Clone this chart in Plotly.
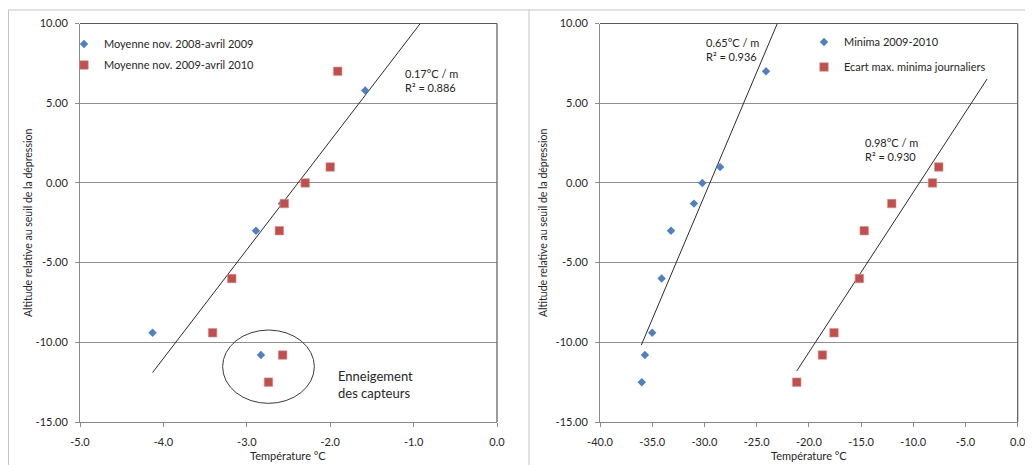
import plotly.graph_objects as go

# ---------------- data ----------------
# Left panel: mean temperatures
left_blue_name = "Moyenne nov. 2008-avril 2009"
left_blue_temp = [-1.58, -2.58, -2.89, -4.13, -2.83]
left_blue_alt = [5.8, -1.3, -3.0, -9.4, -10.8]

left_red_name = "Moyenne nov. 2009-avril 2010"
left_red_temp = [-1.91, -2.00, -2.30, -2.55, -2.61, -3.18, -3.41, -2.57, -2.74]
left_red_alt = [7.0, 1.0, 0.0, -1.3, -3.0, -6.0, -9.4, -10.8, -12.5]

left_trend_temp = [-4.13, -0.92]
left_trend_alt = [-11.9, 10.0]

# Right panel: minima
right_blue_name = "Minima 2009-2010"
right_blue_temp = [-24.1, -28.5, -30.2, -31.0, -33.2, -34.1, -35.0, -35.7, -36.0]
right_blue_alt = [7.0, 1.0, 0.0, -1.3, -3.0, -6.0, -9.4, -10.8, -12.5]

right_red_name = "Ecart max. minima journaliers"
right_red_temp = [-7.56, -8.16, -12.06, -14.7, -15.16, -17.59, -18.7, -21.16]
right_red_alt = [1.0, 0.0, -1.3, -3.0, -6.0, -9.4, -10.8, -12.5]

right_trend1_temp = [-36.04, -23.02]
right_trend1_alt = [-10.17, 10.0]
right_trend2_temp = [-21.16, -2.93]
right_trend2_alt = [-11.8, 6.52]

# Ticks
y_ticks = [-15, -10, -5, 0, 5, 10]
y_labels = ["-15.00", "-10.00", "-5.00", "0.00", "5.00", "10.00"]
left_x_ticks = [-5, -4, -3, -2, -1, 0]
left_x_labels = ["-5.0", "-4.0", "-3.0", "-2.0", "-1.0", "0.0"]
right_x_ticks = [-40, -35, -30, -25, -20, -15, -10, -5, 0]
right_x_labels = ["-40.0", "-35.0", "-30.0", "-25.0", "-20.0", "-15.0", "-10.0", "-5.0", "0.0"]

# Snow-covered sensors ellipse (centre and half-axes, data units)
snow_center = (-2.74, -11.53)
snow_half_axes = (0.55, 2.30)

# ---------------- styling ----------------
FONT = "Lato, 'Open Sans', sans-serif"
TXT = "#262626"
BLUE = "#4F81BD"
RED = "#C0504D"
GRID = "#8f8f8f"
FRAME = "#5a5a5a"
OFF = 8                      # page body margin of the html page
W, H = 1033 - OFF, 465 - OFF


def px(xp):
    """screen x pixel -> paper fraction"""
    return (xp - OFF) / W


def py(yp):
    """screen y pixel (from top) -> paper fraction"""
    return 1 - (yp - OFF) / H


fig = go.Figure()

# Left traces
fig.add_trace(go.Scatter(x=left_trend_temp, y=left_trend_alt, mode="lines",
                         line=dict(color="#2b2b2b", width=1), showlegend=False,
                         xaxis="x", yaxis="y", hoverinfo="skip"))
fig.add_trace(go.Scatter(x=left_blue_temp, y=left_blue_alt, mode="markers", name=left_blue_name,
                         marker=dict(symbol="diamond", size=6.5, color=BLUE, line=dict(width=0)),
                         xaxis="x", yaxis="y", legend="legend", legendgroup="a"))
fig.add_trace(go.Scatter(x=left_red_temp, y=left_red_alt, mode="markers", name=left_red_name,
                         marker=dict(symbol="square", size=8.5, color=RED, line=dict(width=0.6, color="#d9908e")),
                         xaxis="x", yaxis="y", legend="legend", legendgroup="b"))

# Right traces
fig.add_trace(go.Scatter(x=right_trend1_temp, y=right_trend1_alt, mode="lines",
                         line=dict(color="#2b2b2b", width=1), showlegend=False,
                         xaxis="x2", yaxis="y2", hoverinfo="skip"))
fig.add_trace(go.Scatter(x=right_trend2_temp, y=right_trend2_alt, mode="lines",
                         line=dict(color="#2b2b2b", width=1), showlegend=False,
                         xaxis="x2", yaxis="y2", hoverinfo="skip"))
fig.add_trace(go.Scatter(x=right_blue_temp, y=right_blue_alt, mode="markers", name=right_blue_name,
                         marker=dict(symbol="diamond", size=6.5, color=BLUE, line=dict(width=0)),
                         xaxis="x2", yaxis="y2", legend="legend2", legendgroup="c"))
fig.add_trace(go.Scatter(x=right_red_temp, y=right_red_alt, mode="markers", name=right_red_name,
                         marker=dict(symbol="square", size=8.5, color=RED, line=dict(width=0.6, color="#d9908e")),
                         xaxis="x2", yaxis="y2", legend="legend2", legendgroup="d"))

ydom = [py(422), py(23.5)]
xdom1 = [px(80), px(497)]
xdom2 = [px(600), px(1017.7)]

axis_common = dict(showline=True, linecolor="#8a8a8a", linewidth=1, ticks="outside",
                   ticklen=4, tickcolor="#8a8a8a", zeroline=False, automargin=False,
                   tickfont=dict(family=FONT, size=11, color=TXT))

fig.update_layout(
    template="none",
    width=W, height=H,
    margin=dict(l=0, r=0, t=0, b=0, pad=0),
    paper_bgcolor="white", plot_bgcolor="white",
    font=dict(family=FONT, size=11, color=TXT),
    xaxis=dict(domain=xdom1, range=[-5, 0], tickvals=left_x_ticks, ticktext=left_x_labels,
               showgrid=False, anchor="y", ticklabelstandoff=6, **axis_common),
    yaxis=dict(domain=ydom, range=[-15, 10], tickvals=y_ticks, ticktext=y_labels,
               showgrid=True, gridcolor=GRID, gridwidth=1, anchor="x", ticklabelstandoff=5,
               **axis_common),
    xaxis2=dict(domain=xdom2, range=[-40, 0], tickvals=right_x_ticks, ticktext=right_x_labels,
                showgrid=False, anchor="y2", ticklabelstandoff=6, **axis_common),
    yaxis2=dict(domain=ydom, range=[-15, 10], tickvals=y_ticks, ticktext=y_labels,
                showgrid=True, gridcolor=GRID, gridwidth=1, anchor="x2", ticklabelstandoff=5,
                **axis_common),
    legend=dict(x=px(64), y=py(29.5), xanchor="left", yanchor="top",
                bgcolor="rgba(0,0,0,0)", font=dict(family=FONT, size=11, color=TXT),
                tracegroupgap=2, itemwidth=30),
    legend2=dict(x=px(804), y=py(27.5), xanchor="left", yanchor="top",
                 bgcolor="rgba(0,0,0,0)", font=dict(family=FONT, size=11, color=TXT),
                 tracegroupgap=6, itemwidth=30),
    showlegend=True,
)

shapes = []
# chart frames (light grey)
shapes.append(dict(type="line", xref="paper", yref="paper", x0=px(8), x1=1, y0=py(10), y1=py(10),
                   line=dict(color="#c4c4c4", width=1)))
for xp in (8.5, 529):
    shapes.append(dict(type="line", xref="paper", yref="paper", x0=px(xp), x1=px(xp), y0=0, y1=py(10),
                       line=dict(color="#c4c4c4", width=1)))
# plot area top & right borders
for xa, ya in (("x", "y"), ("x2", "y2")):
    shapes.append(dict(type="line", xref=f"{xa} domain", yref=f"{ya} domain", x0=0, x1=1, y0=1, y1=1,
                       line=dict(color=FRAME, width=1.2)))
    shapes.append(dict(type="line", xref=f"{xa} domain", yref=f"{ya} domain", x0=1, x1=1, y0=0, y1=1,
                       line=dict(color=FRAME, width=1.2)))
# snow ellipse
shapes.append(dict(type="circle", xref="x", yref="y",
                   x0=snow_center[0] - snow_half_axes[0], x1=snow_center[0] + snow_half_axes[0],
                   y0=snow_center[1] - snow_half_axes[1], y1=snow_center[1] + snow_half_axes[1],
                   line=dict(color="#3a3a3a", width=1)))
fig.update_layout(shapes=shapes)

ann_font = dict(family=FONT, size=11, color=TXT)
annotations = [
    dict(xref="x", yref="y", x=-1.13, y=6.4, xanchor="left", yanchor="middle", align="left",
         text="0.17°C / m<br>R² = 0.886", showarrow=False, font=ann_font),
    dict(xref="x", yref="y", x=-1.93, y=-12.67, xanchor="left", yanchor="middle", align="left",
         text="Enneigement<br>des capteurs", showarrow=False, font=dict(family=FONT, size=13, color=TXT)),
    dict(xref="x2", yref="y2", x=-30.0, y=8.36, xanchor="left", yanchor="middle", align="left",
         text="0.65°C / m<br>R² = 0.936", showarrow=False, font=ann_font),
    dict(xref="x2", yref="y2", x=-14.8, y=2.08, xanchor="left", yanchor="middle", align="left",
         text="0.98°C / m<br>R² = 0.930", showarrow=False, font=ann_font),
]
for xp in (28, 543):
    annotations.append(dict(xref="paper", yref="paper", x=px(xp), y=py(223), textangle=-90,
                            xanchor="center", yanchor="middle", showarrow=False,
                            text="Altitude relative au seuil de la dépression",
                            font=dict(family=FONT, size=10.5, color=TXT)))
for xp in (288, 809):
    annotations.append(dict(xref="paper", yref="paper", x=px(xp), y=py(465), yshift=1,
                            xanchor="center", yanchor="bottom", showarrow=False,
                            text="Température °C", font=dict(family=FONT, size=11, color=TXT)))
fig.update_layout(annotations=annotations)

fig.write_html("out.html")
